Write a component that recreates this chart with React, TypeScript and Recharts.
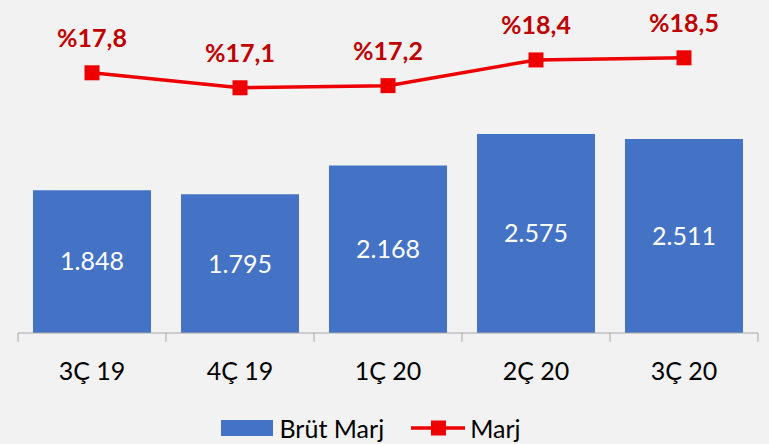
import React from "react";
import { ComposedChart, Bar, Line, XAxis, YAxis, Legend, LabelList } from "recharts";

const categories = ["3Ç 19", "4Ç 19", "1Ç 20", "2Ç 20", "3Ç 20"];
const brutMarj = [1848, 1795, 2168, 2575, 2511];
const marj = [17.8, 17.1, 17.2, 18.4, 18.5];

const data = categories.map((c, i) => ({ name: c, brut: brutMarj[i], marj: marj[i] }));

const FONT = "Lato, 'Open Sans', sans-serif";
const BAR_COLOR = "#4472C4";
const LINE_COLOR = "#EE0000";
const LABEL_RED = "#C00000";
const AXIS_GRAY = "#A6A6A6";

const fmtThousands = (v: number) => {
  const s = String(Math.round(v));
  return s.replace(/\B(?=(\d{3})+(?!\d))/g, ".");
};
const fmtPct = (v: number) => "%" + v.toFixed(1).replace(".", ",");

const CustomTick = (props: any) => {
  const { x, y, payload, index, width } = props;
  const band = width ? width / categories.length : 148;
  return (
    <g>
      <line x1={x - band / 2} x2={x - band / 2} y1={y} y2={y + 9} stroke={AXIS_GRAY} strokeWidth={1} />
      {index === categories.length - 1 && (
        <line x1={x + band / 2} x2={x + band / 2} y1={y} y2={y + 9} stroke={AXIS_GRAY} strokeWidth={1} />
      )}
      <text x={x} y={y + 47} textAnchor="middle" fill="#000" fontFamily={FONT} fontSize={25}>
        {payload.value}
      </text>
    </g>
  );
};

const SquareDot = (props: any) => {
  const { cx, cy } = props;
  if (cx == null || cy == null) return null;
  return <rect x={cx - 7.5} y={cy - 7.5} width={15} height={15} fill={LINE_COLOR} />;
};

const LineLabel = (props: any) => {
  const { x, y, value } = props;
  return (
    <text x={x} y={y - 26} textAnchor="middle" fill={LABEL_RED} fontFamily={FONT} fontWeight={700} fontSize={25}>
      {fmtPct(value)}
    </text>
  );
};

const LegendContent = () => (
  <div
    style={{
      width: 769,
      height: 30,
      boxSizing: "border-box",
      paddingTop: 1,
      paddingRight: 27,
      display: "flex",
      justifyContent: "center",
      alignItems: "flex-start",
      fontFamily: FONT,
      fontSize: 25,
      lineHeight: "26px",
      color: "#000",
    }}
  >
    <div style={{ display: "flex", alignItems: "center", height: 26 }}>
      <div style={{ width: 52, height: 16, background: BAR_COLOR, marginRight: 6 }} />
      <span>Brüt Marj</span>
    </div>
    <div style={{ display: "flex", alignItems: "center", height: 26, marginLeft: 27 }}>
      <svg width={54} height={16} style={{ marginRight: 5 }}>
        <line x1={0} x2={54} y1={8} y2={8} stroke={LINE_COLOR} strokeWidth={3.5} />
        <rect x={20} y={0.5} width={15} height={15} fill={LINE_COLOR} />
      </svg>
      <span>Marj</span>
    </div>
  </div>
);

export default function App() {
  return (
    <div style={{ position: "absolute", left: 0, top: 0, width: 769, height: 444, background: "#F2F2F2" }}>
      <ComposedChart
        width={769}
        height={444}
        data={data}
        margin={{ top: 24, right: 11, left: 18, bottom: 0 }}
        barCategoryGap={15}
      >
        <XAxis
          dataKey="name"
          xAxisId="x"
          height={81}
          tickSize={0}
          tickMargin={0}
          axisLine={{ stroke: AXIS_GRAY, strokeWidth: 1 }}
          tickLine={false}
          tick={<CustomTick />}
          interval={0}
        />
        <YAxis yAxisId="left" hide domain={[0, 4000]} />
        <YAxis yAxisId="right" hide orientation="right" domain={[5.64, 20.08]} />
        <Legend
          verticalAlign="bottom"
          height={30}
          content={<LegendContent />}
          wrapperStyle={{ left: 0, width: 769, height: 30 }}
        />
        <Bar xAxisId="x" yAxisId="left" dataKey="brut" name="Brüt Marj" fill={BAR_COLOR} isAnimationActive={false}>
          <LabelList
            dataKey="brut"
            position="center"
            formatter={(v: any) => fmtThousands(Number(v))}
            fill="#FFFFFF"
            fontFamily={FONT}
            fontSize={25}
          />
        </Bar>
        <Line
          xAxisId="x"
          yAxisId="right"
          dataKey="marj"
          name="Marj"
          stroke={LINE_COLOR}
          strokeWidth={3.5}
          dot={<SquareDot />}
          activeDot={false}
          isAnimationActive={false}
        >
          <LabelList dataKey="marj" content={<LineLabel />} />
        </Line>
      </ComposedChart>
    </div>
  );
}
